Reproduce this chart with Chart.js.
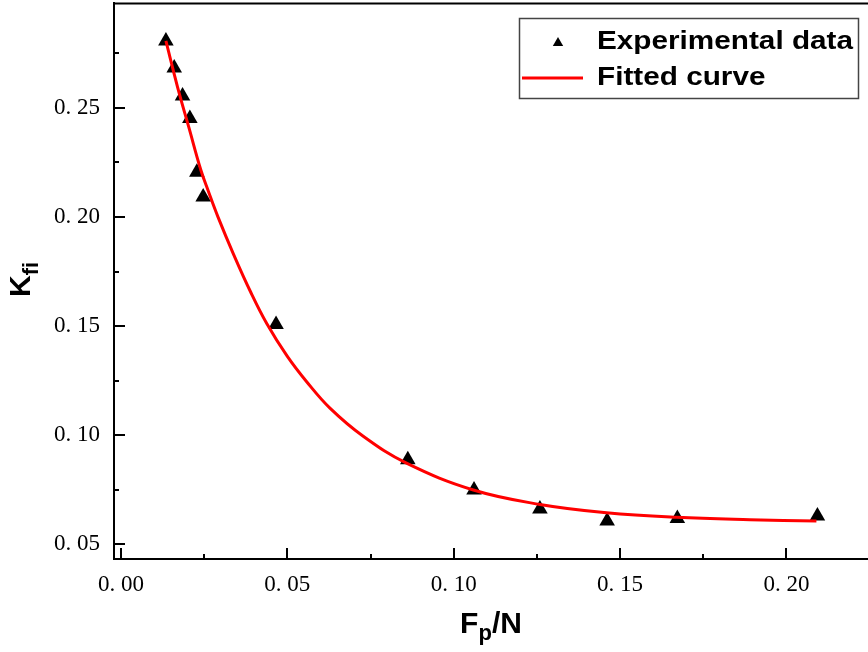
<!DOCTYPE html>
<html>
<head>
<meta charset="utf-8">
<script src="https://cdn.jsdelivr.net/npm/chart.js@4.4.1/dist/chart.umd.min.js"></script>
<style>
  html, body { margin: 0; padding: 0; background: #fff; overflow: hidden; }
  #wrap { width: 868px; height: 652px; position: relative; }
</style>
</head>
<body>
<div id="wrap"><canvas id="myChart"></canvas></div>
<script>
// experimental data (F_p/N , K_fi)
const expX = [0.0135, 0.0160, 0.0185, 0.0207, 0.0228, 0.0247, 0.0466, 0.0862, 0.1061, 0.1259, 0.1461, 0.1672, 0.2093];
const expY = [0.2806, 0.2682, 0.2554, 0.2451, 0.2205, 0.2091, 0.1507, 0.0888, 0.0749, 0.0662, 0.0607, 0.0618, 0.0630];

// fitted curve
const fitX = [0.0135, 0.0170, 0.0204, 0.0240, 0.0262, 0.0292, 0.0338, 0.0390, 0.0438, 0.0500, 0.0558, 0.0628, 0.0728, 0.0858, 0.1059, 0.1259, 0.1459, 0.1670, 0.1890, 0.2090];
const fitY = [0.2806, 0.2595, 0.2410, 0.2215, 0.2120, 0.1998, 0.1830, 0.1655, 0.1512, 0.1361, 0.1245, 0.1124, 0.0995, 0.0872, 0.0749, 0.0683, 0.0645, 0.0624, 0.0613, 0.0607];

const seriesNames = ['Experimental data', 'Fitted curve'];
const xTitle = ['F', 'p', '/N'];
const yTitle = ['K', 'fi'];
const tickStep = 0.025;   // every other tick is a labelled major tick

const ctx = document.getElementById('myChart');

function isMajor(v) {
  return Math.round(v / tickStep) % 2 === 0;
}
function fmt(v) {
  return v.toFixed(2).replace('.', '. ');
}
function noPad(s) {
  s.paddingTop = 0;
  s.paddingBottom = 0;
  s.paddingLeft = 0;
  s.paddingRight = 0;
}

// inward ticks, top border, axis titles and the boxed legend
const decor = {
  id: 'decor',
  afterDraw(chart) {
    const c = chart.ctx;
    const a = chart.chartArea;
    const xs = chart.scales.x, ys = chart.scales.y;
    c.save();
    c.strokeStyle = '#000';
    c.lineWidth = 2;
    c.beginPath();
    c.moveTo(a.left, a.top + 0.5);
    c.lineTo(a.right, a.top + 0.5);
    c.stroke();

    xs.ticks.forEach(function(t) {
      const px = Math.round(xs.getPixelForValue(t.value));
      const len = isMajor(t.value) ? 11 : 5;
      c.beginPath();
      c.moveTo(px, a.bottom);
      c.lineTo(px, a.bottom - len);
      c.stroke();
    });
    ys.ticks.forEach(function(t) {
      const py = Math.round(ys.getPixelForValue(t.value));
      const len = isMajor(t.value) ? 11 : 5;
      c.beginPath();
      c.moveTo(a.left, py);
      c.lineTo(a.left + len, py);
      c.stroke();
    });

    // x title  F_p/N
    c.fillStyle = '#000';
    c.textBaseline = 'alphabetic';
    c.textAlign = 'left';
    const big = 'bold 30px "Liberation Sans", Arial, sans-serif';
    const small = 'bold 22px "Liberation Sans", Arial, sans-serif';
    c.font = big;
    const w0 = c.measureText(xTitle[0]).width;
    const w2 = c.measureText(xTitle[2]).width;
    c.font = small;
    const w1 = c.measureText(xTitle[1]).width;
    const sx = (a.left + a.right) / 2 - (w0 + w1 + w2) / 2;
    const by = 633;
    c.font = big;
    c.fillText(xTitle[0], sx, by);
    c.font = small;
    c.fillText(xTitle[1], sx + w0, by + 7);
    c.font = big;
    c.fillText(xTitle[2], sx + w0 + w1, by);

    // y title  K_fi (rotated)
    c.save();
    c.translate(30, 297);
    c.rotate(-Math.PI / 2);
    c.font = big;
    const k = c.measureText(yTitle[0]).width;
    c.fillText(yTitle[0], 0, 0);
    c.font = small;
    c.fillText(yTitle[1], k, 8);
    c.restore();

    // legend
    c.lineWidth = 1.5;
    c.strokeStyle = '#444';
    c.strokeRect(519.5, 18.5, 339, 80);
    c.fillStyle = '#000';
    const tx = 558, ty = 43, r = 6;
    c.beginPath();
    c.moveTo(tx, ty - r);
    c.lineTo(tx + r * 0.866, ty + r / 2);
    c.lineTo(tx - r * 0.866, ty + r / 2);
    c.closePath();
    c.fill();
    c.strokeStyle = '#ff0000';
    c.lineWidth = 3;
    c.beginPath();
    c.moveTo(522, 78);
    c.lineTo(583, 78);
    c.stroke();

    c.font = 'bold 25px "Liberation Sans", Arial, sans-serif';
    c.textBaseline = 'middle';
    const stretch = 256 / c.measureText(seriesNames[0]).width;
    c.save();
    c.translate(597, 0);
    c.scale(stretch, 1);
    c.fillText(seriesNames[0], 0, 42);
    c.fillText(seriesNames[1], 0, 78);
    c.restore();
    c.restore();
  }
};

new Chart(ctx, {
  type: 'scatter',
  data: {
    datasets: [{
      label: seriesNames[0],
      data: expX.map(function(x, i) { return { x: x, y: expY[i] }; }),
      pointStyle: 'triangle',
      pointRadius: 9,
      backgroundColor: '#000',
      borderWidth: 0,
      order: 2
    }, {
      type: 'line',
      label: seriesNames[1],
      data: fitX.map(function(x, i) { return { x: x, y: fitY[i] }; }),
      borderColor: '#ff0000',
      borderWidth: 3,
      pointRadius: 0,
      fill: false,
      tension: 0.4,
      order: 1
    }]
  },
  options: {
    responsive: true,
    maintainAspectRatio: false,
    animation: false,
    layout: { autoPadding: false, padding: { top: 3, left: 0, right: 0, bottom: 0 } },
    plugins: {
      legend: { display: false },
      tooltip: { enabled: false }
    },
    scales: {
      x: {
        type: 'linear',
        min: -0.0021,
        max: 0.2245,
        grid: { display: false, drawTicks: false },
        border: { color: '#000', width: 2 },
        afterFit: function(s) { s.height = 93; noPad(s); },
        ticks: {
          stepSize: tickStep,
          includeBounds: false,
          autoSkip: false,
          maxRotation: 0,
          padding: 12,
          color: '#000',
          font: { family: '"Liberation Serif", "Times New Roman", serif', size: 23 },
          callback: function(v) { return isMajor(v) ? fmt(v) : ''; }
        }
      },
      y: {
        type: 'linear',
        min: 0.0433,
        max: 0.298,
        grid: { display: false, drawTicks: false },
        border: { color: '#000', width: 2 },
        afterFit: function(s) { s.width = 114; noPad(s); },
        ticks: {
          stepSize: tickStep,
          includeBounds: false,
          autoSkip: false,
          padding: 14,
          color: '#000',
          font: { family: '"Liberation Serif", "Times New Roman", serif', size: 23 },
          callback: function(v) { return isMajor(v) ? fmt(v) : ''; }
        }
      }
    }
  },
  plugins: [decor]
});
</script>
</body>
</html>
